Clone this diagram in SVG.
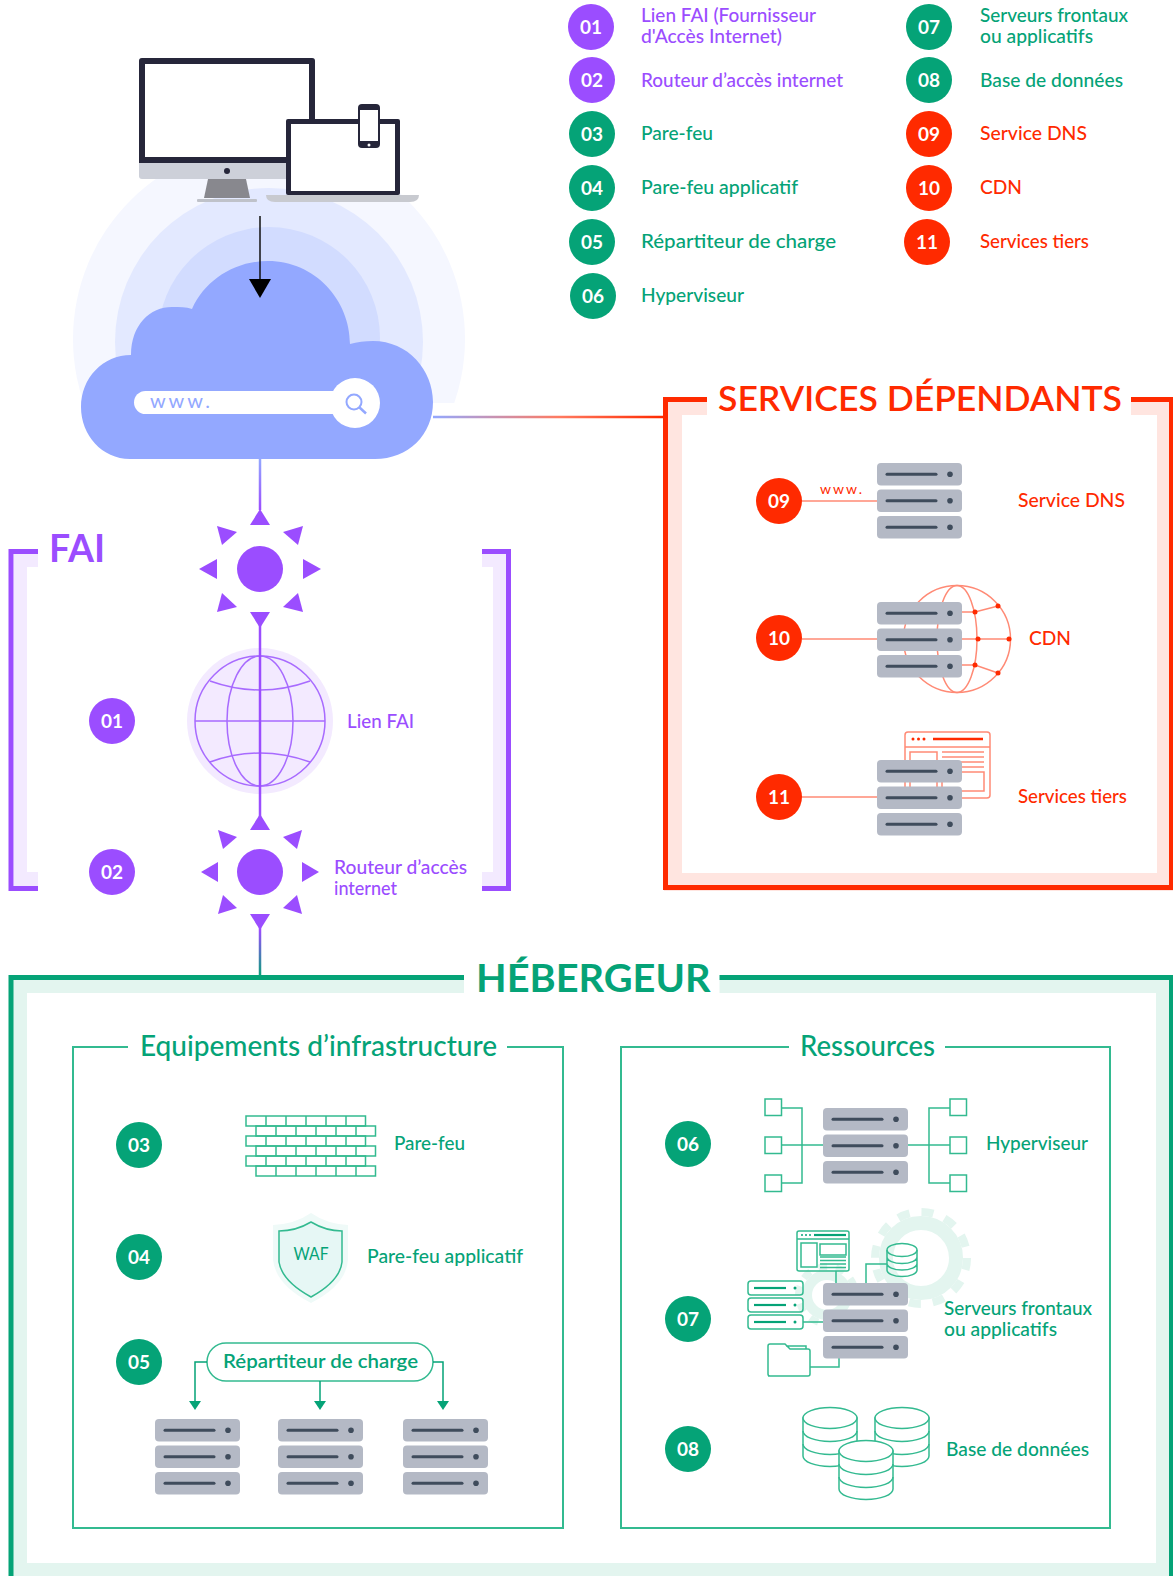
<svg xmlns="http://www.w3.org/2000/svg" width="1173" height="1576" viewBox="0 0 1173 1576">
<style>
text{font-family:"Lato","Liberation Sans",sans-serif;}
.t{font-size:19px;font-weight:500;}
.p{fill:#9B4DFF;}.g{fill:#05A377;}.r{fill:#FF2A00;}
.n{font-size:19px;font-weight:700;fill:#fff;text-anchor:middle;}
.h{font-weight:700;}
.sub{font-size:29px;font-weight:500;fill:#05A377;}
.lg{fill:none;stroke:#33BA90;stroke-width:1.5;}
.lr{fill:none;stroke:#FF8A75;stroke-width:1.5;}
.bar{fill:#B4B9C5;}
.dash{stroke:#3F4C5C;stroke-width:3;stroke-linecap:round;}
.dot{fill:#3F4C5C;}
</style>
<defs>
<g id="rack">
<rect class="bar" width="85" height="22.5" rx="4"/><line class="dash" x1="10" y1="11.3" x2="59" y2="11.3"/><circle class="dot" cx="73" cy="11.3" r="2.8"/>
<rect class="bar" y="26.5" width="85" height="22.5" rx="4"/><line class="dash" x1="10" y1="37.8" x2="59" y2="37.8"/><circle class="dot" cx="73" cy="37.8" r="2.8"/>
<rect class="bar" y="53" width="85" height="22.5" rx="4"/><line class="dash" x1="10" y1="64.3" x2="59" y2="64.3"/><circle class="dot" cx="73" cy="64.3" r="2.8"/>
</g>
<path id="bricks" class="lg" d="M0,0H119.500V10H0ZM20,0V10M40,0V10M60,0V10M80,0V10M100,0V10"/>
<g id="cyl">
<path d="M-27,0V38A27,10.500 0 0 0 27,38V0Z" fill="#fff" stroke="#33BA90" stroke-width="1.5"/>
<path class="lg" d="M-27,13A27,10.500 0 0 0 27,13M-27,26A27,10.500 0 0 0 27,26"/>
<ellipse cx="0" cy="0" rx="27" ry="10.500" fill="#fff" stroke="#33BA90" stroke-width="1.5"/>
</g>
<linearGradient id="gBluePurple" gradientUnits="userSpaceOnUse" x1="260" y1="459" x2="260" y2="510"><stop offset="0" stop-color="#93A8FF"/><stop offset="1" stop-color="#9B4DFF"/></linearGradient>
<linearGradient id="gPurpleGreen" gradientUnits="userSpaceOnUse" x1="260" y1="930" x2="260" y2="977"><stop offset="0" stop-color="#9B4DFF"/><stop offset="1" stop-color="#05A377"/></linearGradient>
<linearGradient id="gBlueRed" gradientUnits="userSpaceOnUse" x1="433" y1="417" x2="663" y2="417"><stop offset="0" stop-color="#93A8FF"/><stop offset="0.55" stop-color="#FF7A60"/><stop offset="1" stop-color="#FF2A00"/></linearGradient>
<marker id="mBlack" markerUnits="userSpaceOnUse" markerWidth="22" markerHeight="22" refX="0" refY="11" orient="auto"><path d="M0,0L19,11L0,22Z" fill="#000"/></marker>
<marker id="mGreen" markerUnits="userSpaceOnUse" markerWidth="9" markerHeight="12" refX="0" refY="6" orient="auto"><path d="M0,0L9,6L0,12Z" fill="#05A377"/></marker>
<clipPath id="ringClip"><rect x="0" y="0" width="1173" height="403"/></clipPath>
</defs>
<rect width="1173" height="1576" fill="#fff"/>

<g id="cloud-rings" clip-path="url(#ringClip)">
<circle cx="269" cy="339" r="196" fill="#F5F7FF"/>
<circle cx="269" cy="342" r="154" fill="#E3E9FF"/>
<circle cx="269" cy="338" r="111" fill="#D2DCFF"/>
</g>

<g id="devices">
<rect x="139" y="58" width="176" height="121" rx="3" fill="#CDD0D9"/>
<path d="M139,163V61a3,3 0 0 1 3,-3H312a3,3 0 0 1 3,3V163Z" fill="#26263A"/>
<rect x="145" y="64" width="164" height="93" fill="#fff"/>
<circle cx="227" cy="171" r="3" fill="#26263A"/>
<polygon points="208,179 246,179 250,198 204,198" fill="#88888E"/>
<rect x="197" y="199" width="60" height="3" rx="1" fill="#BFC2CA"/>
<rect x="286" y="119" width="114" height="76" rx="2" fill="#26263A"/>
<rect x="291" y="124" width="104" height="67" fill="#fff"/>
<path d="M266,195H419Q419,202 410,202H275Q266,202 266,195Z" fill="#C8CAD0"/>
<rect x="358" y="104" width="22" height="44" rx="4" fill="#26263A"/>
<rect x="360" y="110" width="18" height="31" fill="#fff"/>
<circle cx="369" cy="145" r="1.500" fill="#fff"/>
</g>

<g id="cloud">
<path d="M131,355C131,325 150,307 172,307C180,307 186,307 192,309C205,280 235,261 268,261C315,261 350,300 350,344C357,342 365,341 373,341C408,341 433,370 433,402C433,435 408,459 375,459H130C102,459 81,435 81,407C81,378 103,355 131,355Z" fill="#93A8FF"/>
<rect x="134" y="391" width="215" height="23" rx="11.500" fill="#fff"/>
<circle cx="355" cy="403" r="25" fill="#fff"/>
<circle cx="354" cy="402" r="7.500" fill="none" stroke="#93A8FF" stroke-width="2"/>
<line x1="359" y1="407" x2="366" y2="413.500" stroke="#93A8FF" stroke-width="2.500"/>
<text x="150" y="408" font-size="20" fill="#93A8FF" textLength="60">www.</text>
</g>

<g id="frame-fai">
<path d="M38,554H14V886H38V872H27V567H38Z" fill="#F3EAFF"/>
<path d="M482,554H506V886H482V872H493V567H482Z" fill="#F3EAFF"/>
<path d="M38,551.500H11V888.500H38M482,551.500H508.500V888.500H482" fill="none" stroke="#9B4DFF" stroke-width="5"/>
<text x="49" y="562" font-size="38" class="p h" textLength="56" lengthAdjust="spacingAndGlyphs">FAI</text>
</g>

<g id="router-1" class="p" transform="translate(260,569)">
<circle r="23"/>
<polygon points="0,-60 -10,-44 10,-44"/><polygon points="0,59 -10,43 10,43"/>
<polygon points="-61,0 -43,-10 -43,10"/><polygon points="61,0 43,-10 43,10"/>
<polygon points="-43,-43 -23,-37 -38,-24"/><polygon points="43,-43 23,-37 38,-24"/>
<polygon points="-43,43 -38,24 -23,38"/><polygon points="43,43 38,24 23,38"/>
</g>

<g id="globe-fai">
<circle cx="260" cy="721" r="73" fill="#F3EAFF"/>
<circle cx="260" cy="721" r="65" fill="#F3EAFF" stroke="#A86BFF" stroke-width="1.500"/>
<ellipse cx="260" cy="721" rx="33" ry="65" fill="none" stroke="#A86BFF" stroke-width="1.500"/>
<path d="M195,721H325M210,681Q260,699 310,681M210,762Q260,744 310,762" fill="none" stroke="#A86BFF" stroke-width="1.500"/>
</g>
<g id="badge-fai-01"><circle class="p" cx="112" cy="721" r="23"/><text class="n" x="112" y="727.500">01</text></g>
<text class="t p" x="347" y="728" textLength="67" lengthAdjust="spacingAndGlyphs">Lien FAI</text>

<g id="router-2" class="p" transform="translate(260,872)">
<circle r="23"/>
<polygon points="0,-58 -10,-42 10,-42"/><polygon points="0,58 -10,42 10,42"/>
<polygon points="-59,0 -42,-10 -42,10"/><polygon points="59,0 42,-10 42,10"/>
<polygon points="-42,-42 -23,-35 -37,-23"/><polygon points="42,-42 23,-35 37,-23"/>
<polygon points="-42,42 -37,23 -23,36"/><polygon points="42,42 37,23 23,36"/>
</g>
<g id="badge-fai-02"><circle class="p" cx="112" cy="872" r="23"/><text class="n" x="112" y="878.500">02</text></g>
<text class="t p" x="334" y="874" textLength="133" lengthAdjust="spacingAndGlyphs">Routeur d’accès</text>
<text class="t p" x="334" y="895" textLength="63" lengthAdjust="spacingAndGlyphs">internet</text>

<g id="frame-services">
<rect x="673" y="406" width="493" height="476" fill="none" stroke="#FFE5E0" stroke-width="18"/>
<rect x="665.500" y="399.500" width="506" height="488" fill="none" stroke="#FF2A00" stroke-width="5"/>
<rect x="707" y="390" width="424" height="25" fill="#fff"/>
<text x="718" y="411" font-size="35" class="r" font-weight="600" textLength="404" lengthAdjust="spacingAndGlyphs">SERVICES DÉPENDANTS</text>
</g>

<g id="node-09">
<line class="lr" x1="802" y1="501" x2="877" y2="501"/>
<circle class="r" cx="779" cy="501" r="23"/><text class="n" x="779" y="507.500">09</text>
<text class="r" x="820" y="494" font-size="14" textLength="42">www.</text>
<use href="#rack" x="877" y="463"/>
<text class="t r" x="1018" y="507" textLength="107" lengthAdjust="spacingAndGlyphs">Service DNS</text>
</g>

<g id="node-10">
<line class="lr" x1="802" y1="639" x2="877" y2="639"/>
<circle class="r" cx="779" cy="638" r="23"/><text class="n" x="779" y="644.500">10</text>
<circle class="lr" cx="957" cy="639" r="53.500"/>
<ellipse class="lr" cx="957" cy="639" rx="20" ry="53.500"/>
<use href="#rack" x="877" y="602"/>
<path class="lr" d="M962,612H975L998,606M962,639H1009M962,665H975L998,673"/>
<g class="r"><circle cx="975" cy="612" r="2.500"/><circle cx="998" cy="606" r="2.500"/><circle cx="978" cy="639" r="2.500"/><circle cx="1009" cy="639" r="2.500"/><circle cx="975" cy="665" r="2.500"/><circle cx="998" cy="673" r="2.500"/></g>
<text class="t r" x="1029" y="645" textLength="42" lengthAdjust="spacingAndGlyphs">CDN</text>
</g>

<g id="node-11">
<line class="lr" x1="802" y1="797" x2="877" y2="797"/>
<circle class="r" cx="779" cy="797" r="23"/><text class="n" x="779" y="803.500">11</text>
<rect class="lr" x="905" y="732" width="85" height="66" rx="3"/>
<path class="lr" d="M905,747H990M910,798V752H937V798M942,752H984M942,757H984M942,762H984M942,767H984"/>
<rect class="lr" x="942" y="772" width="42" height="19"/>
<line x1="933" y1="739" x2="983" y2="739" stroke="#FF2A00" stroke-width="2.500"/>
<g class="r"><circle cx="913" cy="739" r="1.500"/><circle cx="918.500" cy="739" r="1.500"/><circle cx="924" cy="739" r="1.500"/></g>
<use href="#rack" x="877" y="760"/>
<text class="t r" x="1018" y="803" textLength="109" lengthAdjust="spacingAndGlyphs">Services tiers</text>
</g>

<g id="frame-hebergeur">
<rect x="20" y="986" width="1143" height="584" fill="none" stroke="#E3F5EF" stroke-width="14"/>
<rect x="11" y="977.500" width="1160.500" height="610" fill="none" stroke="#05A377" stroke-width="5"/>
<rect x="464" y="960" width="255.500" height="33" fill="#fff"/>
<text x="476" y="992" font-size="38" class="g h" textLength="234.500" lengthAdjust="spacingAndGlyphs">HÉBERGEUR</text>
</g>

<g id="frame-infra">
<path class="lg" style="stroke-width:2" d="M128,1047H73V1528H563V1047H507"/>
<text class="sub" x="140" y="1056" textLength="357" lengthAdjust="spacingAndGlyphs">Equipements d’infrastructure</text>
</g>
<g id="frame-ressources">
<path class="lg" style="stroke-width:2" d="M789,1047H621V1528H1110V1047H945"/>
<text class="sub" x="800" y="1056" textLength="135" lengthAdjust="spacingAndGlyphs">Ressources</text>
</g>

<g id="node-03">
<circle class="g" cx="139" cy="1145" r="23"/><text class="n" x="139" y="1151.500">03</text>
<use href="#bricks" x="246" y="1116"/><use href="#bricks" x="256" y="1126"/>
<use href="#bricks" x="246" y="1136"/><use href="#bricks" x="256" y="1146"/>
<use href="#bricks" x="246" y="1156"/><use href="#bricks" x="256" y="1166"/>
<text class="t g" x="394" y="1150" textLength="71" lengthAdjust="spacingAndGlyphs">Pare-feu</text>
</g>

<g id="node-04">
<circle class="g" cx="139" cy="1257" r="23"/><text class="n" x="139" y="1263.500">04</text>
<path d="M311,1213Q295,1224 273,1225V1260Q276,1285 311,1303Q346,1285 348,1260V1225Q327,1224 311,1213Z" fill="#EFFAF8"/>
<path d="M311,1222Q296,1231 279,1231V1262Q282,1281 311,1297Q340,1281 342,1262V1231Q326,1231 311,1222Z" fill="#E6F7F5" stroke="#33BA90" stroke-width="1.500"/>
<text x="311" y="1260" font-size="17" font-weight="400" class="g" text-anchor="middle" textLength="35" lengthAdjust="spacingAndGlyphs">WAF</text>
<text class="t g" x="367" y="1263" textLength="156" lengthAdjust="spacingAndGlyphs">Pare-feu applicatif</text>
</g>

<g id="node-05">
<circle class="g" cx="139" cy="1362" r="23"/><text class="n" x="139" y="1368.500">05</text>
<rect class="lg" x="207" y="1343" width="226" height="38" rx="19" fill="#fff"/>
<text class="t g" style="font-weight:600" x="223" y="1368" textLength="195" lengthAdjust="spacingAndGlyphs">Répartiteur de charge</text>
<use href="#rack" x="155" y="1419"/><use href="#rack" x="278" y="1419"/><use href="#rack" x="403" y="1419"/>
</g>

<g id="node-06">
<circle class="g" cx="688" cy="1144" r="23"/><text class="n" x="688" y="1150.500">06</text>
<g class="lg"><rect x="765" y="1099" width="16.500" height="16.500"/><rect x="765" y="1137" width="16.500" height="16.500"/><rect x="765" y="1175" width="16.500" height="16.500"/>
<rect x="950" y="1099" width="16.500" height="16.500"/><rect x="950" y="1137" width="16.500" height="16.500"/><rect x="950" y="1175" width="16.500" height="16.500"/>
<path d="M781.500,1108H802V1183H781.500M781.500,1145H823M950,1108H929V1183H950M908,1145H950"/></g>
<use href="#rack" x="823" y="1108"/>
<text class="t g" x="986" y="1150" textLength="102" lengthAdjust="spacingAndGlyphs">Hyperviseur</text>
</g>

<g id="node-07">
<g fill="none" stroke="#E3F5EF">
<circle cx="921" cy="1258" r="35" stroke-width="14"/><circle cx="921" cy="1258" r="46" stroke-width="8" stroke-dasharray="12.050 12.050"/>
<circle cx="827" cy="1295" r="20" stroke-width="10"/><circle cx="827" cy="1295" r="28.500" stroke-width="7" stroke-dasharray="8.950 8.950"/>
</g>
<circle class="g" cx="688" cy="1319" r="23"/><text class="n" x="688" y="1325.500">07</text>
<g class="lg">
<rect x="797" y="1231" width="52" height="40" rx="2"/><path d="M797,1239H849M820,1257H846M820,1260.500H846M820,1264H846M820,1267.500H846M836,1271V1283M887,1264H866V1283M803,1322H823M810,1367H839V1358"/>
<rect x="801" y="1243" width="16" height="24"/><rect x="820" y="1244" width="26" height="11"/>
<rect x="748" y="1281" width="55" height="14" rx="3"/><rect x="748" y="1298" width="55" height="14" rx="3"/><rect x="748" y="1315" width="55" height="14" rx="3"/>
<path d="M768,1376H808Q810,1376 810,1374V1351Q810,1349 808,1349H790L785,1344H770Q768,1344 768,1346V1374Q768,1376 770,1376ZM786,1346H806V1349" fill="#fff"/>
<path d="M887,1250V1270A15,6.500 0 0 0 917,1270V1250M887,1257A15,6.500 0 0 0 917,1257M887,1263.500A15,6.500 0 0 0 917,1263.500"/>
<ellipse cx="902" cy="1250" rx="15" ry="6.500"/>
</g>
<g stroke="#05A377" stroke-width="2.200" fill="#05A377">
<line x1="814" y1="1235" x2="846" y2="1235"/>
<line x1="754" y1="1288" x2="786" y2="1288"/><line x1="754" y1="1305" x2="786" y2="1305"/><line x1="754" y1="1322" x2="786" y2="1322"/>
</g>
<g class="g"><circle cx="802" cy="1235" r="1"/><circle cx="806" cy="1235" r="1"/><circle cx="810" cy="1235" r="1"/><circle cx="795" cy="1288" r="1.500"/><circle cx="795" cy="1305" r="1.500"/><circle cx="795" cy="1322" r="1.500"/></g>
<use href="#rack" x="823" y="1283"/>
<text class="t g" x="944" y="1315" textLength="148" lengthAdjust="spacingAndGlyphs">Serveurs frontaux</text>
<text class="t g" x="944" y="1336" textLength="113" lengthAdjust="spacingAndGlyphs">ou applicatifs</text>
</g>

<g id="node-08">
<circle class="g" cx="688" cy="1449" r="23"/><text class="n" x="688" y="1455.500">08</text>
<use href="#cyl" x="830" y="1418"/><use href="#cyl" x="902" y="1418"/><use href="#cyl" x="866" y="1451"/>
<text class="t g" x="946" y="1456" textLength="143" lengthAdjust="spacingAndGlyphs">Base de données</text>
</g>

<g id="connectors" fill="none">
<line x1="260" y1="459" x2="260" y2="510" stroke="url(#gBluePurple)" stroke-width="2.500"/>
<line x1="260" y1="620" x2="260" y2="820" stroke="#9B4DFF" stroke-width="2.500"/>
<line x1="260" y1="925" x2="260" y2="976" stroke="url(#gPurpleGreen)" stroke-width="2.500"/>
<line x1="433" y1="417" x2="663" y2="417" stroke="url(#gBlueRed)" stroke-width="2.500"/>
<line x1="260" y1="216" x2="260" y2="279" stroke="#111" stroke-width="1.500" marker-end="url(#mBlack)"/>
<g stroke="#05A377" stroke-width="1.500">
<path d="M207,1362H195V1401" marker-end="url(#mGreen)"/>
<path d="M320,1381V1401" marker-end="url(#mGreen)"/>
<path d="M433,1362H443V1401" marker-end="url(#mGreen)"/>
</g>
</g>

<g id="legend">
<g id="legend-01"><circle class="p" cx="591" cy="27" r="23"/><text class="n" x="591" y="33.500">01</text><text class="t p" x="641" y="22" textLength="175" lengthAdjust="spacingAndGlyphs">Lien FAI (Fournisseur</text><text class="t p" x="641" y="43" textLength="141" lengthAdjust="spacingAndGlyphs">d'Accès Internet)</text></g>
<g id="legend-02"><circle class="p" cx="592" cy="80" r="23"/><text class="n" x="592" y="86.500">02</text><text class="t p" x="641" y="87" textLength="202" lengthAdjust="spacingAndGlyphs">Routeur d’accès internet</text></g>
<g id="legend-03"><circle class="g" cx="592" cy="134" r="23"/><text class="n" x="592" y="140.500">03</text><text class="t g" x="641" y="140" textLength="72" lengthAdjust="spacingAndGlyphs">Pare-feu</text></g>
<g id="legend-04"><circle class="g" cx="592" cy="188" r="23"/><text class="n" x="592" y="194.500">04</text><text class="t g" x="641" y="194" textLength="157" lengthAdjust="spacingAndGlyphs">Pare-feu applicatif</text></g>
<g id="legend-05"><circle class="g" cx="592" cy="242" r="23"/><text class="n" x="592" y="248.500">05</text><text class="t g" x="641" y="248" textLength="195" lengthAdjust="spacingAndGlyphs">Répartiteur de charge</text></g>
<g id="legend-06"><circle class="g" cx="593" cy="296" r="23"/><text class="n" x="593" y="302.500">06</text><text class="t g" x="641" y="302" textLength="103" lengthAdjust="spacingAndGlyphs">Hyperviseur</text></g>
<g id="legend-07"><circle class="g" cx="929" cy="27" r="23"/><text class="n" x="929" y="33.500">07</text><text class="t g" x="980" y="22" textLength="148" lengthAdjust="spacingAndGlyphs">Serveurs frontaux</text><text class="t g" x="980" y="43" textLength="113" lengthAdjust="spacingAndGlyphs">ou applicatifs</text></g>
<g id="legend-08"><circle class="g" cx="929" cy="80" r="23"/><text class="n" x="929" y="86.500">08</text><text class="t g" x="980" y="87" textLength="143" lengthAdjust="spacingAndGlyphs">Base de données</text></g>
<g id="legend-09"><circle class="r" cx="929" cy="134" r="23"/><text class="n" x="929" y="140.500">09</text><text class="t r" x="980" y="140" textLength="107" lengthAdjust="spacingAndGlyphs">Service DNS</text></g>
<g id="legend-10"><circle class="r" cx="929" cy="188" r="23"/><text class="n" x="929" y="194.500">10</text><text class="t r" x="980" y="194" textLength="42" lengthAdjust="spacingAndGlyphs">CDN</text></g>
<g id="legend-11"><circle class="r" cx="927" cy="242" r="23"/><text class="n" x="927" y="248.500">11</text><text class="t r" x="980" y="248" textLength="109" lengthAdjust="spacingAndGlyphs">Services tiers</text></g>
</g>
</svg>
